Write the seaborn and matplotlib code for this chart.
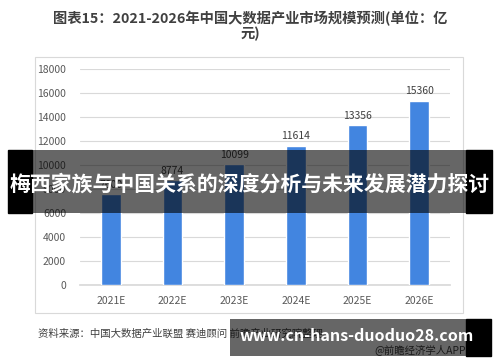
import numpy as np
import pandas as pd
import matplotlib
matplotlib.use('Agg')
import matplotlib.pyplot as plt
from matplotlib.patches import Rectangle
import seaborn as sns

# data (2021E label hidden under the banner, estimated)
years = ['2021E', '2022E', '2023E', '2024E', '2025E', '2026E']
market_size = [7600, 8774, 10099, 11614, 13356, 15360]
y_ticks = list(range(0, 18001, 2000))

title = '图表15：2021-2026年中国大数据产业市场规模预测(单位：亿\n元)'
banner = '梅西家族与中国关系的深度分析与未来发展潜力探讨'
source = '资料来源：中国大数据产业联盟 赛迪顾问 前瞻产业研究院整理'
credit = '@前瞻经济学人APP'
site = 'www.cn-hans-duoduo28.com'

sns.set_theme(style='white')
plt.rcParams['font.family'] = ['Noto Sans CJK SC', 'DejaVu Sans']

W, H = 500, 362
fig = plt.figure(figsize=(5, 3.62), dpi=100)

def fx(px):
    return px / W

def fy(py):
    return 1 - py / H

# outer chart frame
fig.patches.append(Rectangle((fx(35), fy(313)), fx(463) - fx(35), fy(57) - fy(313),
                             transform=fig.transFigure, fill=False,
                             edgecolor='#D9D9D9', linewidth=0.8, zorder=0))

ax = fig.add_axes([fx(80), fy(285), fx(450) - fx(80), fy(69) - fy(285)])
df = pd.DataFrame({'year': years, 'value': market_size})
sns.barplot(data=df, x='year', y='value', color='#4285E0', saturation=1,
            width=0.32, ax=ax, zorder=3)
ax.set_ylim(0, 18000)
ax.set_yticks(y_ticks)
ax.set_yticklabels([str(t) for t in y_ticks], fontsize=7.5, color='#595959')
ax.tick_params(axis='x', labelsize=7.5, labelcolor='#595959', length=0, pad=8)
ax.tick_params(axis='y', length=0, pad=10)
ax.yaxis.grid(True, color='#D9D9D9', linewidth=0.8, zorder=0)
ax.set_axisbelow(True)
for s in ['top', 'right', 'left']:
    ax.spines[s].set_visible(False)
ax.spines['bottom'].set_color('#D9D9D9')
ax.set_xlabel('')
ax.set_ylabel('')
for i, v in enumerate(market_size):
    ax.text(i, v + 350, str(v), ha='center', va='bottom', fontsize=7.5, color='#404040')

fig.text(0.5, fy(26), title, ha='center', va='center', fontsize=10.3,
         fontweight='bold', color='#404040', linespacing=1.0)

# overlay banner
fig.patches.append(Rectangle((fx(8), fy(213)), fx(32) - fx(8), fy(150) - fy(213),
                             transform=fig.transFigure, color='black', zorder=5))
fig.patches.append(Rectangle((fx(466), fy(213)), fx(492) - fx(466), fy(150) - fy(213),
                             transform=fig.transFigure, color='black', zorder=5))
fig.patches.append(Rectangle((fx(32), fy(213)), fx(466) - fx(32), fy(150) - fy(213),
                             transform=fig.transFigure, color='black', alpha=0.6,
                             linewidth=0, zorder=5))
fig.text(0.5, fy(184), banner, ha='center', va='center', fontsize=15,
         fontweight='bold', color='white', zorder=6)

fig.text(fx(38), fy(334), source, ha='left', va='center', fontsize=7.5, color='#404040')
fig.text(fx(466), fy(350), credit, ha='right', va='center', fontsize=7.5, color='#404040')

# bottom site banner
fig.patches.append(Rectangle((fx(230), fy(356)), fx(466) - fx(230), fy(319) - fy(356),
                             transform=fig.transFigure, color='black', alpha=0.6,
                             linewidth=0, zorder=5))
fig.patches.append(Rectangle((fx(466), fy(356)), fx(491) - fx(466), fy(319) - fy(356),
                             transform=fig.transFigure, color='black', zorder=5))
fig.text(fx(357), fy(336), site, ha='center', va='center', fontsize=11.5,
         fontweight='bold', color='white', zorder=6)

fig.savefig('out.png', dpi=100)
